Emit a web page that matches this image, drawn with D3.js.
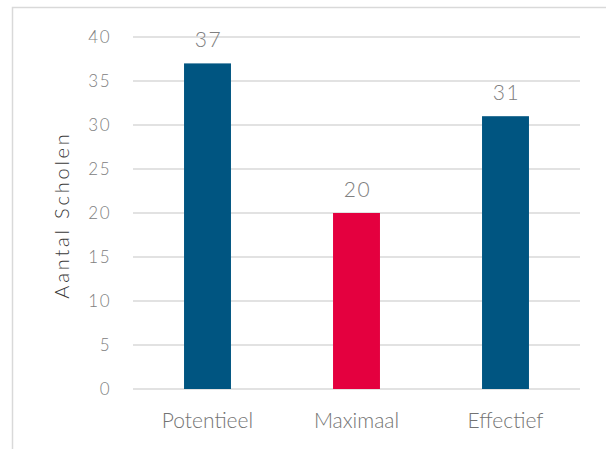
<!DOCTYPE html>
<html><head><meta charset="utf-8">
<script src="https://cdn.jsdelivr.net/npm/d3@7"></script>
<style>
body{margin:0;background:#fff;}
text{font-family:"Lato","Open Sans",sans-serif;font-weight:300;}
</style></head>
<body><svg id="c" width="606" height="449"></svg>
<script>
const categories = ["Potentieel","Maximaal","Effectief"];
const values = [37,20,31];
const barColors = ["#005581","#E4003F","#005581"];
const yTicks = [0,5,10,15,20,25,30,35,40];
const yTitle = "Aantal Scholen";

const svg = d3.select("#c");
// outer chart border (left + top)
svg.append("path").attr("d","M12.5,449 L12.5,7.5 L606,7.5").attr("fill","none").attr("stroke","#d9d9d9").attr("stroke-width",1.5);

const x = d3.scaleBand().domain(categories).range([133,580]).paddingInner(0.685).paddingOuter(0.3425);
const y = d3.scaleLinear().domain([0,40]).range([389,37]);

const g = svg.append("g");
g.selectAll("line.grid").data(yTicks).join("line").attr("class","grid")
 .attr("x1",133).attr("x2",580).attr("y1",d=>y(d)).attr("y2",d=>y(d))
 .attr("stroke","#d9d9d9").attr("stroke-width",1.3);

const yAxis = d3.axisLeft(y).tickValues(yTicks).tickSize(0).tickPadding(0);
const ya = svg.append("g").attr("transform","translate(111,0)").call(yAxis);
ya.select(".domain").remove();
ya.selectAll("text").attr("font-size",17).attr("fill","#808080").attr("dy","0.3em")
 .style("font-family","Lato, sans-serif").style("font-weight",300).style("letter-spacing","1.5px");

g.selectAll("rect.bar").data(values).join("rect").attr("class","bar")
 .attr("x",(d,i)=>x(categories[i])).attr("width",x.bandwidth())
 .attr("y",d=>y(d)).attr("height",d=>y(0)-y(d)).attr("fill",(d,i)=>barColors[i]);

g.selectAll("text.val").data(values).join("text").attr("class","val")
 .attr("x",(d,i)=>x(categories[i])+x.bandwidth()/2+1).attr("y",d=>y(d)-16.5)
 .attr("text-anchor","middle").attr("font-size",21).attr("fill","#808080")
 .style("letter-spacing","1.5px").text(d=>d);

const xAxis = d3.axisBottom(x).tickSize(0).tickPadding(0);
const xa = svg.append("g").attr("transform","translate(0,428)").call(xAxis);
xa.select(".domain").remove();
xa.selectAll("text").attr("font-size",21).attr("fill","#737373").attr("dy","0")
 .style("font-family","Lato, sans-serif").style("font-weight",300);

svg.append("text").attr("transform","translate(69,215) rotate(-90)")
 .attr("text-anchor","middle").attr("font-size",20).attr("fill","#3a3a3a")
 .style("letter-spacing","2.8px").text(yTitle);
</script></body></html>
